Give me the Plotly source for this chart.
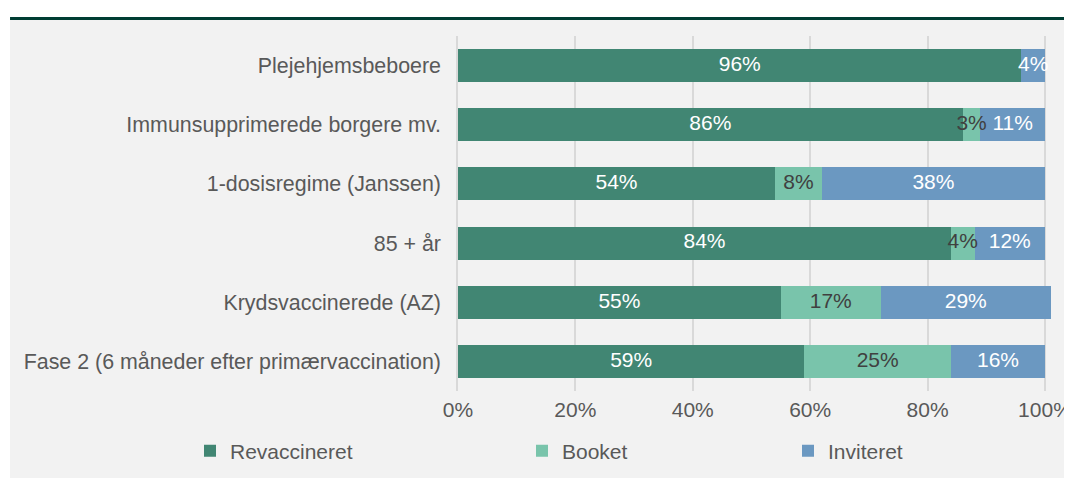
import plotly.graph_objects as go

groups = [
    "Plejehjemsbeboere",
    "Immunsupprimerede borgere mv.",
    "1-dosisregime (Janssen)",
    "85 + år",
    "Krydsvaccinerede (AZ)",
    "Fase 2 (6 måneder efter primærvaccination)",
]
revaccineret = [96, 86, 54, 84, 55, 59]
booket = [0, 3, 8, 4, 17, 25]
inviteret = [4, 11, 38, 12, 29, 16]

series = [
    ("Revaccineret", revaccineret, "#418673", "white", "legend"),
    ("Booket", booket, "#79c4ab", "#404040", "legend2"),
    ("Inviteret", inviteret, "#6b98c1", "white", "legend3"),
]

FONT = "Liberation Sans, Arial, sans-serif"
GREY = "#595959"
FS = 21

fig = go.Figure()
for name, vals, color, tcolor, leg in series:
    fig.add_trace(go.Bar(
        y=groups, x=[v / 100 for v in vals], name=name, orientation="h",
        marker=dict(color=color, line=dict(width=0)),
        legend=leg, hoverinfo="skip",
    ))

# value labels drawn on top of all segments (so small ones may spill over)
start = [0] * len(groups)
for name, vals, color, tcolor, leg in series:
    mids = [(s + v / 2) / 100 for s, v in zip(start, vals)]
    fig.add_trace(go.Scatter(
        x=mids, y=groups, mode="text",
        text=[f"{v}%" if v else "" for v in vals],
        textposition="middle center", cliponaxis=False,
        textfont=dict(family=FONT, size=FS, color=tcolor),
        showlegend=False, hoverinfo="skip",
    ))
    start = [s + v for s, v in zip(start, vals)]

# the page body adds an 8px margin, so the figure is laid out 8px up/left
OFF = 8
W, H = 1080 - OFF, 479 - OFF
XMAX = 1.012
L, T, B = 458 - OFF, 36 - OFF, 391 - OFF
R = L + 587 * XMAX


def px(x):
    return (x - OFF - L) / (R - L)


def py(y):
    return (B - (y - OFF)) / (B - T)


shapes = [
    # grey panel behind the chart
    dict(type="rect", xref="paper", yref="paper", layer="below",
         x0=px(10), x1=px(1090), y0=py(478), y1=py(20),
         fillcolor="#f2f2f2", line=dict(width=0)),
    # dark green rule at the top
    dict(type="rect", xref="paper", yref="paper", layer="below",
         x0=px(10), x1=px(1090), y0=py(20), y1=py(17),
         fillcolor="#003d33", line=dict(width=0)),
]

leg_common = dict(orientation="h", xref="container", yref="container",
                  yanchor="middle", y=1 - 443 / H, bgcolor="rgba(0,0,0,0)",
                  font=dict(family=FONT, size=FS, color=GREY))

fig.update_layout(
    width=W, height=H,
    margin=dict(l=L, r=W - R, t=T, b=H - B, pad=0, autoexpand=False),
    paper_bgcolor="white", plot_bgcolor="#f2f2f2",
    barmode="stack", bargap=0.44,
    font=dict(family=FONT, size=FS, color=GREY),
    shapes=shapes,
    showlegend=True,
    legend=dict(x=182 / W, **leg_common),
    legend2=dict(x=514 / W, **leg_common),
    legend3=dict(x=780 / W, **leg_common),
    xaxis=dict(range=[0, XMAX], tickvals=[0, 0.2, 0.4, 0.6, 0.8, 1.0],
               ticktext=["0%", "20%", "40%", "60%", "80%", "100%"],
               showgrid=True, gridcolor="#d9d9d9", gridwidth=1.5,
               zeroline=False, showline=False, ticks="",
               ticklabelstandoff=4, fixedrange=True, automargin=False),
    yaxis=dict(categoryorder="array", categoryarray=groups[::-1],
               showgrid=False, zeroline=False, ticks="",
               ticklabelstandoff=11, showline=True, linecolor="#d9d9d9",
               linewidth=1.5, fixedrange=True, automargin=False,
               tickfont=dict(family=FONT, size=21.4, color=GREY)),
)

fig.write_html("out.html")
